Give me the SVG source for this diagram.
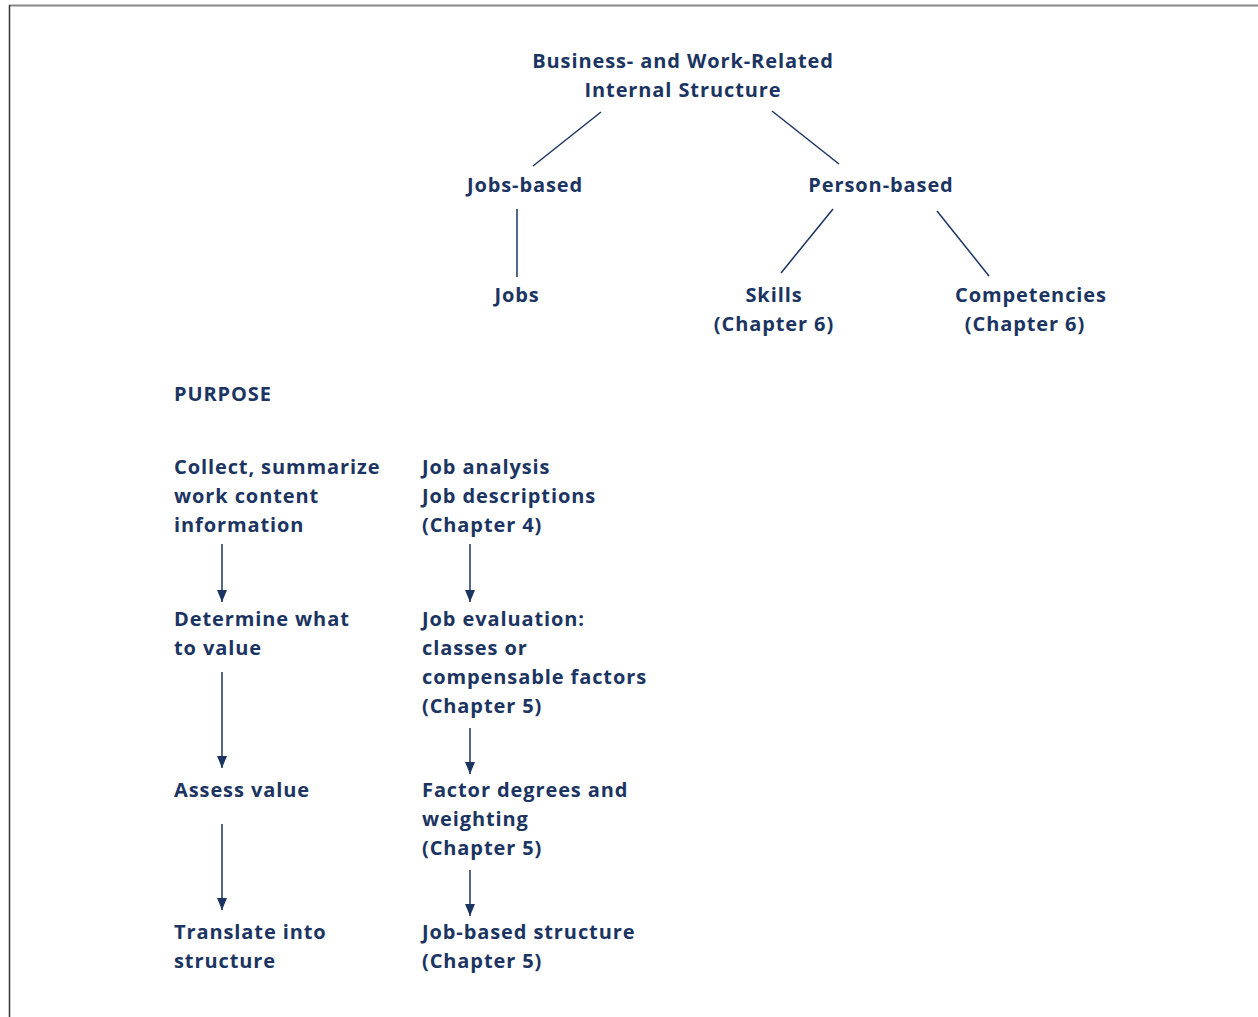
<svg xmlns="http://www.w3.org/2000/svg" width="1258" height="1017" viewBox="0 0 1258 1017">
<style>
text{font-family:"Open Sans","Liberation Sans",sans-serif;font-weight:bold;font-size:20px;letter-spacing:0.9px;fill:#1b3461}
.c{text-anchor:middle}
.ln{stroke:#1b3461;stroke-width:1.5;fill:none}
</style>
<defs>
<marker id="arr" viewBox="0 0 12 10" refX="12" refY="5" markerWidth="12" markerHeight="10" markerUnits="userSpaceOnUse" orient="auto">
<path d="M0,0 L12,5 L0,10 Z" fill="#1b3461"/>
</marker>
</defs>
<rect width="1258" height="1017" fill="#fff"/>
<g id="frame"><line x1="9" y1="5.5" x2="1258" y2="5.5" stroke="#888" stroke-width="2"/><line x1="9.5" y1="5" x2="9.5" y2="1017" stroke="#333" stroke-width="1.5"/></g>
<g id="root"><text class="c" x="683" y="68">Business- and Work-Related</text><text class="c" x="683" y="97">Internal Structure</text></g>
<g id="jobs-based"><text class="c" x="525" y="192">Jobs-based</text></g>
<g id="person-based"><text class="c" x="881" y="192">Person-based</text></g>
<g id="jobs"><text class="c" x="517" y="302">Jobs</text></g>
<g id="skills"><text class="c" x="774" y="302">Skills</text><text class="c" x="774" y="331">(Chapter 6)</text></g>
<g id="competencies"><text class="c" x="1031" y="302">Competencies</text><text class="c" x="1025" y="331">(Chapter 6)</text></g>
<g id="purpose"><text x="174" y="401">PURPOSE</text></g>
<g id="collect"><text x="174" y="474">Collect, summarize</text><text x="174" y="503">work content</text><text x="174" y="532">information</text></g>
<g id="determine"><text x="174" y="626">Determine what</text><text x="174" y="655">to value</text></g>
<g id="assess"><text x="174" y="797">Assess value</text></g>
<g id="translate"><text x="174" y="939">Translate into</text><text x="174" y="968">structure</text></g>
<g id="job-analysis"><text x="422" y="474">Job analysis</text><text x="422" y="503">Job descriptions</text><text x="422" y="532">(Chapter 4)</text></g>
<g id="job-evaluation"><text x="422" y="626">Job evaluation:</text><text x="422" y="655">classes or</text><text x="422" y="684">compensable factors</text><text x="422" y="713">(Chapter 5)</text></g>
<g id="factor-degrees"><text x="422" y="797">Factor degrees and</text><text x="422" y="826">weighting</text><text x="422" y="855">(Chapter 5)</text></g>
<g id="job-based-structure"><text x="422" y="939">Job-based structure</text><text x="422" y="968">(Chapter 5)</text></g>
<g id="connectors">
<line class="ln" x1="601" y1="112" x2="533" y2="166"/>
<line class="ln" x1="772" y1="111" x2="839" y2="164"/>
<line class="ln" x1="517" y1="209" x2="517" y2="277"/>
<line class="ln" x1="833" y1="209" x2="781" y2="273"/>
<line class="ln" x1="937" y1="211" x2="989" y2="276"/>
<line class="ln" x1="222" y1="544" x2="222" y2="602" marker-end="url(#arr)"/>
<line class="ln" x1="222" y1="672" x2="222" y2="768" marker-end="url(#arr)"/>
<line class="ln" x1="222" y1="824" x2="222" y2="910" marker-end="url(#arr)"/>
<line class="ln" x1="470" y1="544" x2="470" y2="602" marker-end="url(#arr)"/>
<line class="ln" x1="470" y1="728" x2="470" y2="774" marker-end="url(#arr)"/>
<line class="ln" x1="470" y1="870" x2="470" y2="916" marker-end="url(#arr)"/>
</g>
</svg>
